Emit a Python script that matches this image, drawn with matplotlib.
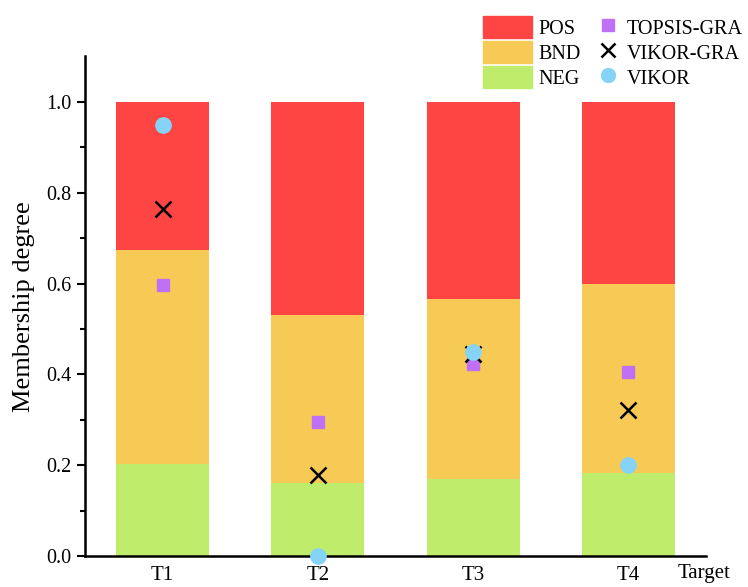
import numpy as np
import matplotlib.pyplot as plt
from matplotlib.patches import Patch
from matplotlib.lines import Line2D

plt.rcParams['font.family'] = ['Liberation Serif', 'DejaVu Serif']

targets = ["T1", "T2", "T3", "T4"]
neg = [0.203, 0.160, 0.170, 0.182]
bnd = [0.470, 0.370, 0.395, 0.418]
pos = [0.327, 0.470, 0.435, 0.400]

topsis_gra = [0.597, 0.295, 0.422, 0.405]
vikor_gra = [0.765, 0.178, 0.445, 0.322]
vikor = [0.950, 0.000, 0.450, 0.200]

c_pos = '#FF4444'
c_bnd = '#F7CA55'
c_neg = '#C0EC6C'
c_topsis = '#C070F5'
c_vikor = '#85D4F8'

fig = plt.figure(figsize=(7.48, 5.87), dpi=100)
ax = fig.add_axes([0.1136, 0.0528, 0.8302, 0.851])

x = np.arange(len(targets))
w = 0.6
neg_a = np.array(neg)
bnd_a = np.array(bnd)
ax.bar(x, neg, w, color=c_neg, zorder=1)
ax.bar(x, bnd, w, bottom=neg_a, color=c_bnd, zorder=1)
ax.bar(x, pos, w, bottom=neg_a + bnd_a, color=c_pos, zorder=1)

ax.plot(x, topsis_gra, 's', color=c_topsis, ms=9, ls='none', zorder=3, clip_on=False)
ax.plot(x, vikor_gra, 'x', color='black', ms=11, mew=1.8, ls='none', zorder=4, clip_on=False)
ax.plot(x, vikor, 'o', color=c_vikor, ms=11, ls='none', zorder=5, clip_on=False)

ax.set_xlim(-0.5, 3.5)
ax.set_ylim(0, 1.1)
ax.set_yticks([0, 0.2, 0.4, 0.6, 0.8, 1.0])
ax.set_yticks(np.arange(0.1, 1.1, 0.2), minor=True)
ax.set_xticks(x)
ax.set_xticklabels(targets)
ax.tick_params(axis='x', length=0, labelsize=15, pad=7)
ax.tick_params(axis='y', which='major', length=6, width=1.5, labelsize=14.5, direction='out')
ax.tick_params(axis='y', which='minor', length=3.5, width=1.5, direction='out')
for s in ['top', 'right']:
    ax.spines[s].set_visible(False)
for s in ['left', 'bottom']:
    ax.spines[s].set_linewidth(1.8)
ax.set_ylabel("Membership degree", fontsize=19, labelpad=8)
ax.text(3.32, -0.018, "Target", fontsize=15, va='top', ha='left', transform=ax.transData)

h1 = [Patch(color=c_pos, label='POS'), Patch(color=c_bnd, label='BND'),
      Patch(color=c_neg, label='NEG')]
leg1 = fig.legend(handles=h1, loc='upper left', bbox_to_anchor=(0.627, 0.997),
                  frameon=False, fontsize=14.5, handlelength=2.45, handleheight=1.3,
                  labelspacing=0.12, handletextpad=0.3, borderpad=0.2)
h2 = [Line2D([], [], marker='s', color=c_topsis, ls='none', ms=9, label='TOPSIS-GRA'),
      Line2D([], [], marker='x', color='black', mew=1.8, ls='none', ms=10, label='VIKOR-GRA'),
      Line2D([], [], marker='o', color=c_vikor, ls='none', ms=10, label='VIKOR')]
leg2 = fig.legend(handles=h2, loc='upper left', bbox_to_anchor=(0.781, 0.997),
                  frameon=False, fontsize=14.5, handlelength=1.0, handleheight=1.3,
                  labelspacing=0.12, handletextpad=0.4, borderpad=0.2)

fig.savefig("out.png", dpi=100)
